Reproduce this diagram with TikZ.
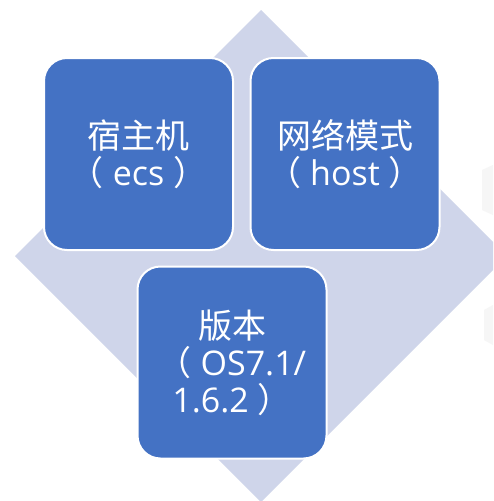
\documentclass[tikz,border=0pt]{standalone}
\usepackage{fontspec}
\newfontfamily\cjk{Noto Sans CJK SC}
\newfontfamily\lat{Open Sans}
\definecolor{boxblue}{HTML}{4472C4}
\definecolor{diamondfill}{HTML}{CFD5EA}
\definecolor{wmark}{HTML}{F6F6F6}
\begin{document}
\begin{tikzpicture}[x=1pt,y=-1pt,
  tile/.style={rectangle, rounded corners=23pt, fill=boxblue, draw=white, line width=2pt,
    minimum width=189pt, minimum height=192pt, inner sep=0pt, text=white, align=center,
    font=\cjk\fontsize{34}{37}\selectfont}]
\useasboundingbox (0,0) rectangle (493,501);
\clip (0,0) rectangle (493,501);
\fill[white] (0,0) rectangle (493,501);
% faint watermark shapes at right edge
\fill[wmark] (482,170) -- (493,165) -- (493,215) -- (482,210) -- cycle;
\fill[wmark] (484,310) -- (493,305) -- (493,345) -- (484,340) -- cycle;
% background diamond
\fill[diamondfill] (261,10) -- (507,256) -- (261,502) -- (15,256) -- cycle;
% tiles
\node[tile] (host) at (138.5,154) {宿主机\\（{\lat\ ecs }）};
\node[tile] (net) at (345,154) {网络模式\\（{\lat\ host }）};
\node[tile] (ver) at (232,362.5) {版本\\（{\lat\ OS7.1/}\\{\lat 1.6.2 }）};
\end{tikzpicture}
\end{document}
